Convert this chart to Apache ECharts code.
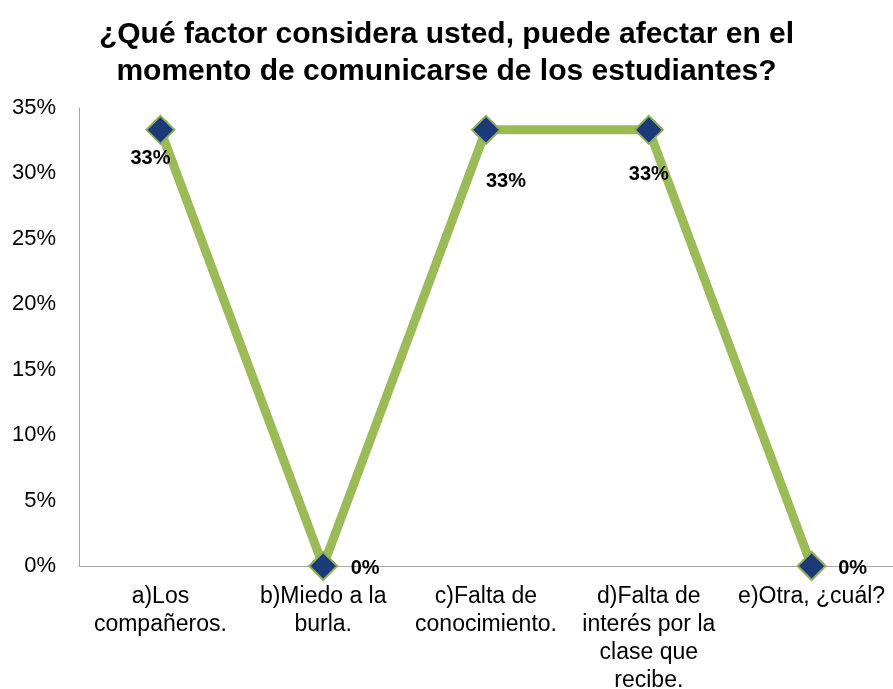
<!DOCTYPE html>
<html>
<head>
<meta charset="utf-8">
<script src="https://cdn.jsdelivr.net/npm/echarts@6/dist/echarts.min.js"></script>
<style>
html, body { margin: 0; padding: 0; background: #fff; }
#chart { width: 893px; height: 689px; }
</style>
</head>
<body>
<div id="chart"></div>
<script>
// datos
var categorias = ["a)Los\ncompañeros.", "b)Miedo a la\nburla.", "c)Falta de\nconocimiento.", "d)Falta de\ninterés por la\nclase que\nrecibe.", "e)Otra, ¿cuál?"];
var valores = [0.3333, 0, 0.3333, 0.3333, 0];
var ticksY = [0, 0.05, 0.10, 0.15, 0.20, 0.25, 0.30, 0.35];

var titulo = "¿Qué factor considera usted, puede afectar en el\nmomento de comunicarse de los estudiantes?";

// desplazamiento de etiquetas
var offs = [[-10, 29], [42, 2], [20, 52], [0, 45], [41, 2]];

var chart = echarts.init(document.getElementById('chart'));
var option = {
    animation: false,
    title: {
        text: titulo,
        left: 'center',
        top: 11,
        textStyle: {
            fontFamily: 'Liberation Sans, Arial, sans-serif',
            fontSize: 30,
            fontWeight: 'bold',
            color: '#000',
            lineHeight: 37
        }
    },
    grid: { left: 79, right: 0, top: 108, bottom: 123, containLabel: false, outerBoundsMode: 'none' },
    xAxis: {
        type: 'category',
        data: categorias,
        boundaryGap: true,
        axisLine: { lineStyle: { color: '#a6a6a6', width: 1 } },
        axisTick: { show: false },
        axisLabel: {
            interval: 0,
            margin: 17,
            fontFamily: 'Liberation Sans, Arial, sans-serif',
            fontSize: 23,
            lineHeight: 28,
            color: '#000',
            align: 'center'
        }
    },
    yAxis: {
        type: 'value',
        min: ticksY[0],
        max: ticksY[ticksY.length - 1],
        interval: 0.05,
        axisLine: { show: true, lineStyle: { color: '#a6a6a6', width: 1 } },
        axisTick: { show: false },
        splitLine: { show: false },
        axisLabel: {
            margin: 23,
            fontFamily: 'Liberation Sans, Arial, sans-serif',
            fontSize: 22,
            color: '#000',
            formatter: function (v) { return Math.round(v * 100) + '%'; }
        }
    },
    series: [{
        type: 'line',
        data: valores.map(function (v, i) {
            return { value: v, label: { offset: offs[i] } };
        }),
        symbol: 'diamond',
        symbolSize: [28, 28],
        lineStyle: { color: '#9BBB59', width: 9 },
        itemStyle: { color: '#1B3A7A', borderColor: '#8FAE55', borderWidth: 2 },
        label: {
            show: true,
            position: 'inside',
            fontFamily: 'Liberation Sans, Arial, sans-serif',
            fontSize: 20,
            fontWeight: 'bold',
            color: '#000',
            formatter: function (p) { return Math.round(p.value * 100) + '%'; }
        },
        z: 3
    }]
};
chart.setOption(option);
</script>
</body>
</html>
